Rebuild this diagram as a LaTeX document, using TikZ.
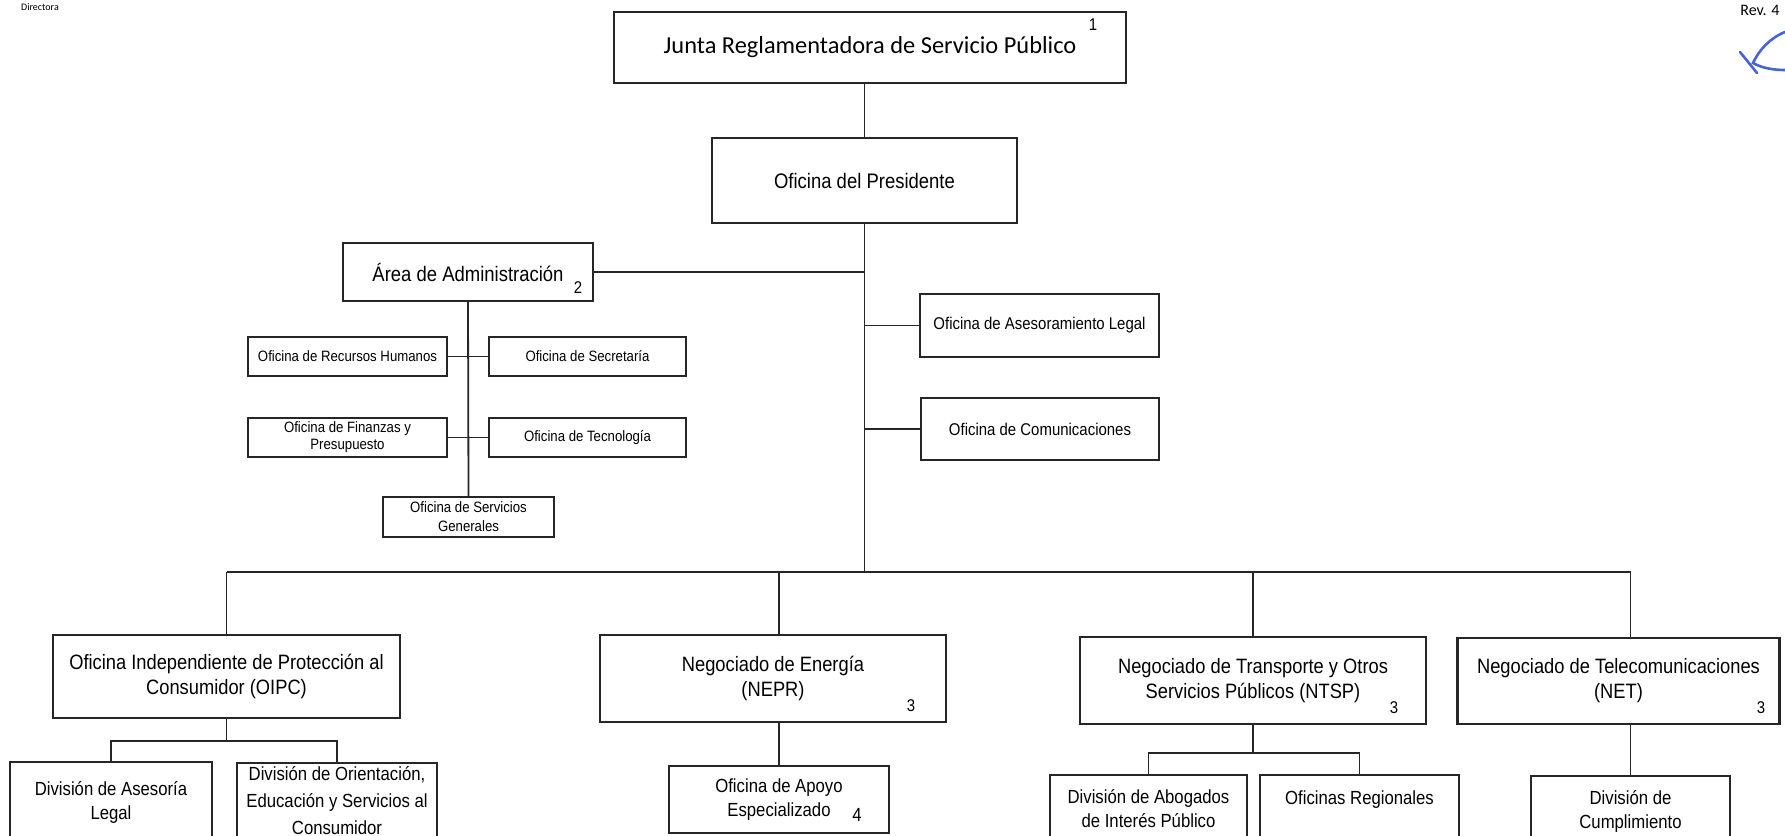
\documentclass[tikz,border=0pt]{standalone}
\usepackage{fontspec}
\setmainfont[FakeStretch=0.88]{Liberation Sans}
\newfontfamily\calib{Carlito}
\usepackage{tikz}
\usetikzlibrary{positioning}

\begin{document}
\begin{tikzpicture}[x=0.5pt,y=-0.5pt]

          % Setup the styles for the boxes and lines
          \tikzset{box/.style={draw=black!85,
                               line width=1.1pt,
                               align=center,
                               inner sep=0pt,
                               font=\fontsize{9.5}{12}\selectfont},
                   small box/.style={box, font=\fontsize{7.5}{8.5}\selectfont},
                   bureau/.style={box, font=\fontsize{10.4}{12.5}\selectfont},
                   link/.style={draw=black!85, line width=0.9pt},
                   tag/.style={inner sep=0pt, font=\fontsize{8.5}{10}\selectfont},
                   sign/.style={draw={rgb,255:red,70;green,100;blue,215}, line width=1.3pt, line cap=round}}
          \useasboundingbox (0,0) rectangle (1785,836);
          \clip (0,0) rectangle (1785,836);

          % Header
          \node[inner sep=0pt, font=\calib\fontsize{5}{6}\selectfont] at (40,7) (director) {Directora};
          \node[inner sep=0pt, font=\calib\fontsize{8}{9}\selectfont] at (1760,10) (rev) {Rev. 4};
          \draw[sign] (1740,52) -- (1757,73);
          \draw[sign] (1785,32) .. controls (1770,38) and (1759,50) .. (1753,63)
                                .. controls (1762,68) and (1773,70) .. (1785,70);

          % Draw the top boxes
          \node[box, minimum width=256pt, minimum height=35.5pt,
                font=\calib\fontsize{12.2}{14}\selectfont] at (870,47.5) (junta) {Junta Reglamentadora de Servicio Público};
          \node[tag] at (1093,25) (junta num) {1};
          \node[box, minimum width=152.5pt, minimum height=42.5pt,
                font=\fontsize{10.5}{13}\selectfont] at (864.5,180.5) (pres) {Oficina del Presidente};

          % Administration
          \node[box, minimum width=125pt, minimum height=29pt,
                font=\fontsize{10.5}{13}\selectfont] at (468,272) (area) {Área de Administración};
          \node[tag] at (578,288) (area num) {2};
          \node[small box, minimum width=99.5pt, minimum height=19.5pt] at (347.5,356.5) (rh) {Oficina de Recursos Humanos};
          \node[small box, minimum width=98.5pt, minimum height=19.5pt] at (587.5,356.5) (secr) {Oficina de Secretaría};
          \node[small box, minimum width=99.5pt, minimum height=19.5pt] at (347.5,437.5) (fin) {Oficina de Finanzas y\\Presupuesto};
          \node[small box, minimum width=98.5pt, minimum height=19.5pt] at (587.5,437.5) (tec) {Oficina de Tecnología};
          \node[small box, minimum width=85.5pt, minimum height=20pt,
                font=\fontsize{7.5}{9.5}\selectfont] at (468.5,517) (servg) {Oficina de Servicios\\Generales};

          % Staff offices
          \node[box, minimum width=119.5pt, minimum height=31.5pt,
                font=\fontsize{8.5}{10}\selectfont] at (1039.5,325.5) (legal) {Oficina de Asesoramiento Legal};
          \node[box, minimum width=119pt, minimum height=31pt,
                font=\fontsize{8.5}{10}\selectfont] at (1040,429) (com) {Oficina de Comunicaciones};

          % Bureaus
          \node[bureau, minimum width=173.5pt, minimum height=41.5pt] at (226.5,676.5) (oipc) {Oficina Independiente de Protección al\\Consumidor (OIPC)};
          \node[bureau, minimum width=173pt, minimum height=43.5pt] at (773,678.5) (nepr) {Negociado de Energía\\(NEPR)};
          \node[tag] at (911,706) (nepr num) {3};
          \node[bureau, minimum width=173pt, minimum height=43.5pt] at (1253,680.5) (ntsp) {Negociado de Transporte y Otros\\Servicios Públicos (NTSP)};
          \node[tag] at (1394,708) (ntsp num) {3};
          \node[bureau, minimum width=161pt, minimum height=43pt] at (1618.5,681) (net) {Negociado de Telecomunicaciones\\(NET)};
          \node[tag] at (1761,708) (net num) {3};

          % Divisions
          \node[box, minimum width=101pt, minimum height=40pt] at (111,802) (ases) {División de Asesoría\\Legal};
          \node[box, minimum width=100pt, minimum height=38pt,
                font=\fontsize{9.5}{13.5}\selectfont] at (337,801) (orient) {División de Orientación,\\Educación y Servicios al\\Consumidor};
          \node[box, minimum width=110pt, minimum height=33.5pt] at (779,799.5) (apoyo) {Oficina de Apoyo\\Especializado};
          \node[tag, font=\fontsize{9.5}{12}\selectfont] at (857,815) (apoyo num) {4};
          \node[box, minimum width=98.5pt, minimum height=34pt] at (1148.5,809) (abog) {División de Abogados\\de Interés Público};
          \node[box, minimum width=99.5pt, minimum height=35pt, text depth=12pt] at (1359.5,810) (regio) {Oficinas Regionales};
          \node[box, minimum width=99.5pt, minimum height=35pt] at (1630.5,811) (cump) {División de\\Cumplimiento};

          % Bus coordinates
          \coordinate (bus) at (864,572);
          \coordinate (oipc bus) at (0,741);
          \coordinate (ntsp bus) at (0,753);

          % Connect the boxes
          \draw[link] (pres.north) -- (pres.north |- junta.south);
          \draw[link] (pres.south) -- (pres.south |- bus);
          \draw[link] (area.east) -- (area.east -| pres.south);
          \draw[link] (legal.west) -- (legal.west -| pres.south);
          \draw[link] (com.west) -- (com.west -| pres.south);
          \draw[link] (area.south) -- (servg.north);
          \draw[link] (rh.east) -- (secr.west);
          \draw[link] (fin.east) -- (tec.west);

          \draw[link] (oipc.north |- bus) -- (cump.north |- bus);
          \draw[link] (oipc.north) -- (oipc.north |- bus);
          \draw[link] (apoyo.north |- nepr.north) -- (apoyo.north |- bus);
          \draw[link] (ntsp.north) -- (ntsp.north |- bus);
          \draw[link] (cump.north |- net.north) -- (cump.north |- bus);

          \draw[link] (oipc.south) -- (oipc.south |- oipc bus);
          \draw[link] (ases.north) -- (ases.north |- oipc bus) -- (orient.north |- oipc bus) -- (orient.north);
          \draw[link] (apoyo.north) -- (apoyo.north |- nepr.south);
          \draw[link] (ntsp.south) -- (ntsp.south |- ntsp bus);
          \draw[link] (abog.north) -- (abog.north |- ntsp bus) -- (regio.north |- ntsp bus) -- (regio.north);
          \draw[link] (cump.north) -- (cump.north |- net.south);

\end{tikzpicture}
\end{document}
